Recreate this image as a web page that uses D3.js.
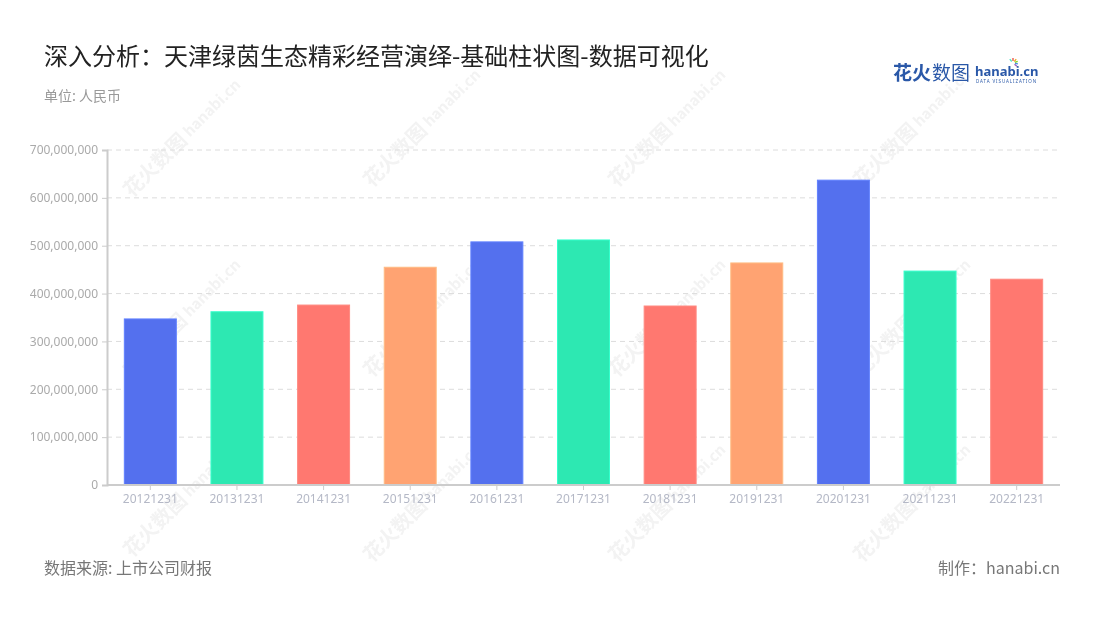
<!DOCTYPE html>
<html><head><meta charset="utf-8">
<script src="https://cdn.jsdelivr.net/npm/d3@7"></script>
<style>
html,body{margin:0;padding:0;background:#fff;}
svg{display:block;font-family:"Noto Sans CJK SC","Noto Sans",sans-serif;}
</style></head>
<body><svg id="c" width="1100" height="620"></svg>
<script>
const categories = ["20121231","20131231","20141231","20151231","20161231","20171231","20181231","20191231","20201231","20211231","20221231"];
const values = [347000000,362000000,376000000,455000000,508000000,512000000,374000000,464000000,637000000,447000000,430000000];
const yTicks = [0,100000000,200000000,300000000,400000000,500000000,600000000,700000000];
const palette = ["#5470ee","#2de8b2","#ff7870","#ffa372"];
const title = "深入分析：天津绿茵生态精彩经营演绎-基础柱状图-数据可视化";
const unitLabel = "单位: 人民币";
const sourceLabel = "数据来源: 上市公司财报";
const makerLabel = "制作：hanabi.cn";

const svg = d3.select("#c");
const M = {l:107, r:1060, t:150, b:485};

// watermarks
const wm = svg.append("g").attr("opacity",0.5);
const wmPos = [[400,160],[645,160],[890,160],[160,350],[400,350],[645,350],[890,350],[400,535],[645,535],[890,535],[160,170],[160,530]];
wmPos.forEach(([x,y])=>{
  const g = wm.append("g").attr("transform",`translate(${x},${y}) rotate(-45)`);
  g.append("text").attr("x",-40).attr("y",0).attr("font-size",20).attr("font-weight","bold").attr("fill","#e6e6e6").text("花火数图");
  g.append("text").attr("x",44).attr("y",-2).attr("font-size",15).attr("font-weight","bold").attr("fill","#e6e6e6").text("hanabi.cn");
});

const x = d3.scaleBand().domain(categories).range([M.l, M.r]).paddingInner(0.4).paddingOuter(0.2);
const y = d3.scaleLinear().domain([0,700000000]).range([M.b, M.t]);

// grid
svg.append("g").selectAll("line").data(yTicks.filter(d=>d>0)).join("line")
  .attr("x1",M.l).attr("x2",M.r).attr("y1",d=>y(d)).attr("y2",d=>y(d))
  .attr("stroke","#dcdcdc").attr("stroke-dasharray","5,4").attr("stroke-width",1);

// bars
svg.append("g").selectAll("rect").data(values).join("rect")
  .attr("x",(d,i)=>x(categories[i])).attr("width",x.bandwidth())
  .attr("y",d=>y(d)).attr("height",d=>M.b - y(d))
  .attr("fill",(d,i)=>palette[i%4])
  .attr("stroke",(d,i)=>d3.color(palette[i%4]).brighter(0.4)).attr("stroke-width",1);

// y axis
const ya = svg.append("g").attr("transform",`translate(${M.l},0)`)
  .call(d3.axisLeft(y).tickValues(yTicks).tickSize(5).tickPadding(4).tickFormat(d3.format(",")));
ya.select(".domain").attr("stroke","#cccccc").attr("stroke-width",2);
ya.selectAll(".tick line").attr("stroke","#cccccc");
ya.selectAll("text").attr("fill","#aaaaaa").attr("font-size",12).attr("font-family","Noto Sans");

// x axis
const xa = svg.append("g").attr("transform",`translate(0,${M.b})`)
  .call(d3.axisBottom(x).tickSize(5).tickPadding(4).tickSizeOuter(0));
xa.select(".domain").attr("stroke","#cccccc").attr("stroke-width",2).attr("d",`M${M.l},0H${M.r}`);
xa.selectAll(".tick line").attr("stroke","#cccccc");
xa.selectAll("text").attr("fill","#b4b8c6").attr("font-size",12).attr("font-family","Noto Sans");

// titles
svg.append("text").attr("x",44).attr("y",65).attr("font-size",24).attr("fill","#222").text(title);
svg.append("text").attr("x",44).attr("y",101).attr("font-size",14).attr("fill","#999").text(unitLabel);
svg.append("text").attr("x",44).attr("y",574).attr("font-size",16).attr("fill","#777").text(sourceLabel);
svg.append("text").attr("x",1060).attr("y",574).attr("text-anchor","end").attr("font-size",16).attr("fill","#777").text(makerLabel);

// logo
const lg = svg.append("g");
lg.append("text").attr("x",893).attr("y",80).attr("font-size",19).attr("font-weight","bold").attr("fill","#2a58a8").text("花火");
lg.append("text").attr("x",932).attr("y",80).attr("font-size",19).attr("fill","#2a58a8").text("数图");
lg.append("text").attr("x",975).attr("y",76).attr("font-size",13).attr("font-weight","bold").attr("fill","#2a58a8").attr("font-family","Noto Sans").text("hanabi.cn");
lg.append("text").attr("x",976).attr("y",83).attr("font-size",4.5).attr("letter-spacing",0.9).attr("fill","#2a58a8").attr("font-family","Noto Sans").text("DATA VISUALIZATION");
const sp = [[-90,"#e84c3d"],[-50,"#f5a623"],[-20,"#7ed321"],[10,"#4a90e2"],[40,"#9b59b6"],[-130,"#50e3c2"]];
sp.forEach(([a,c])=>{
  const r = a*Math.PI/180;
  lg.append("line").attr("x1",1013+Math.cos(r)*2).attr("y1",63+Math.sin(r)*2).attr("x2",1013+Math.cos(r)*5).attr("y2",63+Math.sin(r)*5).attr("stroke",c).attr("stroke-width",1.3);
});
</script></body></html>
